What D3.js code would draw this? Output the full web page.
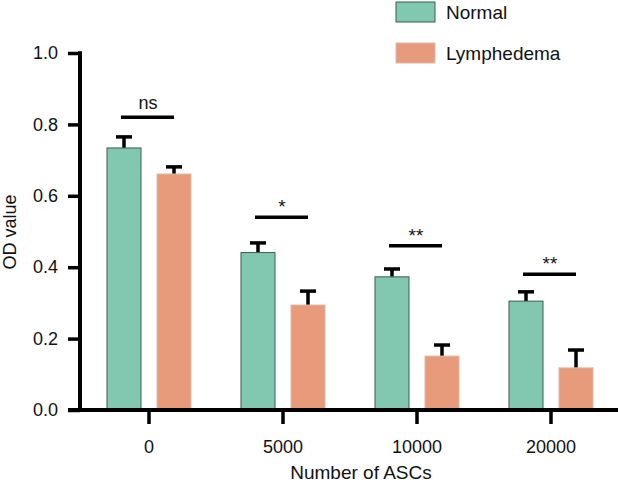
<!DOCTYPE html>
<html>
<head>
<meta charset="utf-8">
<script src="https://cdn.jsdelivr.net/npm/d3@7"></script>
<style>
  html, body { margin: 0; padding: 0; background: #fff; }
  svg { display: block; }
  text { font-family: "Liberation Sans", Arial, Helvetica, sans-serif; fill: #111; }
</style>
</head>
<body>
<svg id="chart" width="618" height="485"></svg>
<script>
const categories = ["0", "5000", "10000", "20000"];
const seriesNames = ["Normal", "Lymphedema"];
const normalValues = [0.734, 0.441, 0.373, 0.305];
const normalErrors = [0.031, 0.027, 0.022, 0.026];
const lymphValues = [0.661, 0.294, 0.151, 0.118];
const lymphErrors = [0.020, 0.039, 0.031, 0.050];
const significance = ["ns", "*", "**", "**"];
const sigLevels = [0.82, 0.54, 0.46, 0.38];
const yTicks = [0.0, 0.2, 0.4, 0.6, 0.8, 1.0];

const colors = { Normal: "#82c8b1", Lymphedema: "#e89b7b" };
const strokes = { Normal: "#3b5c50", Lymphedema: "#d9b9aa" };

const svg = d3.select("#chart");

const y = d3.scaleLinear().domain([0, 1]).range([410, 53]);
const x0 = d3.scaleBand().domain(categories).range([82, 618]).paddingInner(0.373).paddingOuter(0.1865);
const x1 = d3.scaleBand().domain(seriesNames).range([0, x0.bandwidth()]).paddingInner(0.32);

const data = categories.map((c, i) => ({
  cat: c,
  bars: [
    { s: "Normal", v: normalValues[i], e: normalErrors[i] },
    { s: "Lymphedema", v: lymphValues[i], e: lymphErrors[i] }
  ],
  sig: significance[i],
  sigY: sigLevels[i]
}));

const groups = svg.append("g").selectAll("g").data(data).join("g")
  .attr("transform", d => `translate(${x0(d.cat)},0)`);

// Error bars (upward only)
groups.selectAll("g.err").data(d => d.bars).join("g").attr("class", "err")
  .each(function(b) {
    const g = d3.select(this);
    const cx = x1(b.s) + x1.bandwidth() / 2;
    g.append("line").attr("x1", cx).attr("x2", cx)
      .attr("y1", y(b.v)).attr("y2", y(b.v + b.e))
      .attr("stroke", "#000").attr("stroke-width", 3.5);
    g.append("line").attr("x1", cx - 8).attr("x2", cx + 8)
      .attr("y1", y(b.v + b.e)).attr("y2", y(b.v + b.e))
      .attr("stroke", "#000").attr("stroke-width", 3.5);
  });

groups.selectAll("rect").data(d => d.bars).join("rect")
  .attr("x", b => x1(b.s))
  .attr("y", b => y(b.v))
  .attr("width", x1.bandwidth())
  .attr("height", b => y(0) - y(b.v))
  .attr("fill", b => colors[b.s])
  .attr("stroke", b => strokes[b.s])
  .attr("stroke-width", 1);

// Significance lines
groups.append("line")
  .attr("x1", 14).attr("x2", x0.bandwidth() - 17)
  .attr("y1", d => y(d.sigY)).attr("y2", d => y(d.sigY))
  .attr("stroke", "#000").attr("stroke-width", 3.5);
groups.append("text")
  .attr("x", x0.bandwidth() / 2 - 1)
  .attr("y", d => y(d.sigY) - (d.sig === "ns" ? 8 : 4))
  .attr("text-anchor", "middle")
  .style("font-size", d => d.sig === "ns" ? "18px" : "19px")
  .text(d => d.sig);

// Y axis
const yAxis = svg.append("g").attr("transform", "translate(80,0)")
  .call(d3.axisLeft(y).tickValues(yTicks).tickFormat(d3.format(".1f")).tickSize(0).tickPadding(22));
yAxis.select(".domain").remove();
yAxis.selectAll(".tick line").remove();
yAxis.selectAll(".tick").append("rect")
  .attr("x", -12).attr("y", -1.75).attr("width", 12).attr("height", 3.5).attr("fill", "#000");
yAxis.selectAll(".tick text").style("font-size", "18px").style("fill", "#111")
  .style("font-family", "Liberation Sans, Arial, sans-serif");
yAxis.append("rect").attr("x", -2).attr("y", y(1) - 1.75).attr("width", 4)
  .attr("height", y(0) - y(1) + 1.75).attr("fill", "#000");

// X axis
const xAxis = svg.append("g").attr("transform", `translate(0,${y(0)})`)
  .call(d3.axisBottom(x0).tickSize(0).tickPadding(30));
xAxis.select(".domain").remove();
xAxis.selectAll(".tick line").remove();
xAxis.selectAll(".tick").append("rect")
  .attr("x", -1.75).attr("y", 0).attr("width", 3.5).attr("height", 14).attr("fill", "#000");
xAxis.selectAll(".tick text").style("font-size", "18px").style("fill", "#111")
  .style("font-family", "Liberation Sans, Arial, sans-serif");
xAxis.append("rect").attr("x", 68).attr("y", -2).attr("width", 550).attr("height", 4).attr("fill", "#000");

// Axis titles
svg.append("text").attr("x", 361).attr("y", 479).attr("text-anchor", "middle")
  .style("font-size", "19px").text("Number of ASCs");
svg.append("text").attr("transform", "translate(16,232) rotate(-90)")
  .attr("text-anchor", "middle").style("font-size", "18px").text("OD value");

// Legend
const legend = svg.append("g").selectAll("g").data(seriesNames).join("g")
  .attr("transform", (d, i) => `translate(396,${2 + i * 41})`);
legend.append("rect").attr("width", 39).attr("height", 20)
  .attr("fill", d => colors[d]).attr("stroke", d => strokes[d]).attr("stroke-width", 1);
legend.append("text").attr("x", 50).attr("y", 17).style("font-size", "19px").text(d => d);
</script>
</body>
</html>
